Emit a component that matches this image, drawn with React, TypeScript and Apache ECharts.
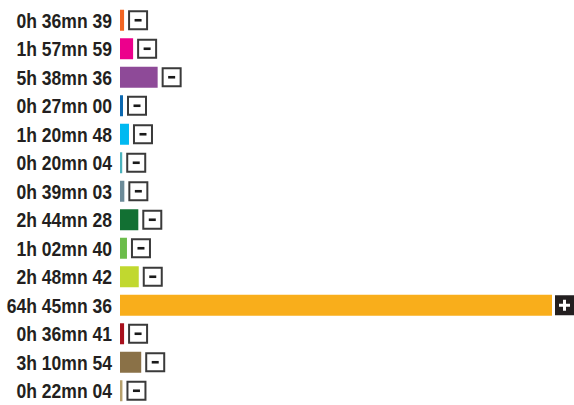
import React, { useEffect, useRef } from "react";
import * as echarts from "echarts";

const labels = [
  "0h 36mn 39",
  "1h 57mn 59",
  "5h 38mn 36",
  "0h 27mn 00",
  "1h 20mn 48",
  "0h 20mn 04",
  "0h 39mn 03",
  "2h 44mn 28",
  "1h 02mn 40",
  "2h 48mn 42",
  "64h 45mn 36",
  "0h 36mn 41",
  "3h 10mn 54",
  "0h 22mn 04",
];

// durations in hours
const hours = [
  0.6108, 1.9664, 5.6433, 0.45, 1.3467, 0.3344, 0.6508, 2.7411, 1.0444,
  2.8117, 64.76, 0.6114, 3.1817, 0.3678,
];

const colors = [
  "#f26522",
  "#ec008c",
  "#8e4a98",
  "#0b68b0",
  "#00b9f1",
  "#4bb3bd",
  "#6c8b99",
  "#127033",
  "#6cbd4b",
  "#c1d82f",
  "#f9ae1b",
  "#a8101d",
  "#8a7147",
  "#b6a06c",
];

const toggles = [
  "-", "-", "-", "-", "-", "-", "-", "-", "-", "-", "+", "-", "-", "-",
];

export default function App() {
  const ref = useRef<HTMLDivElement>(null);
  useEffect(() => {
    if (!ref.current) return;
    const chart = echarts.init(ref.current, null, { renderer: "svg" });
    chart.setOption({
      animation: false,
      grid: { left: 120, right: 22, top: 6, height: 404.6, containLabel: false },
      xAxis: {
        type: "value",
        min: 0,
        max: 64.76,
        show: false,
      },
      yAxis: {
        type: "category",
        inverse: true,
        data: labels,
        axisLine: { show: false },
        axisTick: { show: false },
        splitLine: { show: false },
        axisLabel: { show: false },
      },
      series: [
        {
          type: "bar",
          barWidth: 21,
          data: hours.map((v, i) => ({ value: v, itemStyle: { color: colors[i] } })),
        },
        {
          type: "custom",
          clip: false,
          data: labels.map((l, i) => [0, i]),
          renderItem: (params: any, api: any) => {
            const idx = params.dataIndex;
            const p = api.coord([0, api.value(1)]);
            return {
              type: "text",
              x: p[0] - 8,
              y: p[1] + 0.5,
              scaleX: 0.9,
              style: {
                x: 0,
                y: 0,
                text: labels[idx],
                align: "right",
                verticalAlign: "middle",
                fill: "#231f20",
                font: "bold 19.5px 'Liberation Sans', Arial, sans-serif",
              },
            };
          },
        },
        {
          type: "custom",
          clip: false,
          data: hours.map((v, i) => [v, i]),
          renderItem: (params: any, api: any) => {
            const idx = params.dataIndex;
            const p = api.coord([api.value(0), api.value(1)]);
            const plus = toggles[idx] === "+";
            const x = p[0] + (plus ? 3 : 4);
            const s = plus ? 19 : 20;
            const y = p[1] - s / 2;
            const children: any[] = [];
            if (plus) {
              children.push({
                type: "rect",
                shape: { x, y: y - 0.5, width: s, height: s + 1 },
                style: { fill: "#231f20" },
              });
              children.push({
                type: "rect",
                shape: { x: x + s / 2 - 5.5, y: y + s / 2 - 1.5, width: 11, height: 3 },
                style: { fill: "#ffffff" },
              });
              children.push({
                type: "rect",
                shape: { x: x + s / 2 - 1.5, y: y + s / 2 - 5.5, width: 3, height: 11 },
                style: { fill: "#ffffff" },
              });
            } else {
              children.push({
                type: "rect",
                shape: { x: x + 1, y: y + 1, width: s - 2, height: s - 2 },
                style: { fill: "#ffffff", stroke: "#3a3a3a", lineWidth: 2 },
              });
              children.push({
                type: "rect",
                shape: { x: x + s / 2 - 3.5, y: y + s / 2 - 1.3, width: 7, height: 2.6 },
                style: { fill: "#1a1a1a" },
              });
            }
            return { type: "group", children };
          },
        },
      ],
    });
    return () => chart.dispose();
  }, []);
  return (
    <div
      ref={ref}
      style={{ position: "fixed", left: 0, top: 0, width: 574, height: 405, background: "#fff" }}
    />
  );
}
